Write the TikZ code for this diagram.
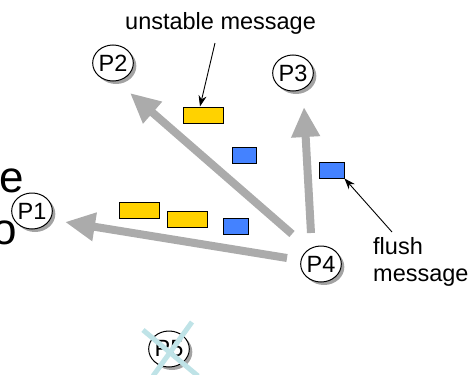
\documentclass[tikz,border=0pt]{standalone}
\usepackage{fontspec}
\setmainfont{Liberation Sans}
\usetikzlibrary{arrows.meta,shapes.geometric,shadows}

\definecolor{flowgray}{HTML}{ABABAB}
\definecolor{msgyellow}{HTML}{FFD200}
\definecolor{msgblue}{HTML}{4482FF}
\definecolor{crosscyan}{HTML}{BFE3E7}
\definecolor{shadowgray}{HTML}{8C8C8C}

\begin{document}
\begin{tikzpicture}[x=1pt,y=-1pt,
  proc/.style={ellipse,draw=black,line width=1pt,fill=white,
    minimum width=40pt,minimum height=36pt,inner sep=0pt,
    font=\fontsize{23.5}{27}\selectfont,
    drop shadow={shadow xshift=3pt,shadow yshift=-3pt,
      fill=shadowgray,opacity=0.8}},
  msg/.style={draw=black,line width=1pt,minimum height=16pt,inner sep=0pt},
  unstablemsg/.style={msg,fill=msgyellow,minimum width=40pt},
  flushmsg/.style={msg,fill=msgblue,minimum width=25pt},
  flow/.style={draw=flowgray,line width=8pt,
    -{Triangle[width=27pt,length=30pt]}},
  pointer/.style={draw=black,line width=0.9pt,
    -{Stealth[length=11pt,width=8pt]}},
  label/.style={font=\fontsize{23.5}{27}\selectfont,inner sep=0pt},
  bigtext/.style={font=\fontsize{44}{50}\selectfont,inner sep=0pt}]

\useasboundingbox (0,0) rectangle (472,375);

% letters of a larger text running in from the left edge
\node[bigtext,anchor=base east] (cute) at (24,192) {e};
\node[bigtext,anchor=base east] (cuto) at (17,244) {o};

% message flow from P4 to the other processes
\coordinate (s1) at (287,258);
\coordinate (t1) at (65,222);
\coordinate (s2) at (292,234);
\coordinate (t2) at (130,93);
\coordinate (s3) at (311,233);
\coordinate (t3) at (304,107);
\draw[flow] (s1) -- (t1);
\draw[flow] (s2) -- (t2);
\draw[flow] (s3) -- (t3);

% processes
\node[proc] (P1) at (32,211) {P1};
\node[proc] (P2) at (113,63) {P2};
\node[proc] (P3) at (293,73) {P3};
\node[proc] (P4) at (321,264) {P4};
\node[proc] (P5) at (169,349) {P5};

% P5 has crashed
\draw[crosscyan,line width=5pt] (143,330) -- (198,376);
\draw[crosscyan,line width=5pt] (192,322) -- (153,376);

% messages in transit
\node[unstablemsg] (m1) at (139.5,210) {};
\node[unstablemsg] (m2) at (187,219) {};
\node[flushmsg]    (m3) at (235.5,226) {};
\node[unstablemsg] (m4) at (203,115) {};
\node[flushmsg,minimum width=24pt] (m5) at (244,155) {};
\node[flushmsg]    (m6) at (331.5,170) {};

% annotations
\node[label,anchor=base west] (unst) at (125,29) {unstable message};
\coordinate (unsttail) at (215,43);
\draw[pointer] (unsttail) -- ([xshift=-3pt]m4.north);

\node[label,anchor=north west,align=left] (flush) at (373,237) {flush\\message};
\coordinate (flushtail) at (392,232);
\draw[pointer] (flushtail) -- (m6.south east);
\end{tikzpicture}
\end{document}
